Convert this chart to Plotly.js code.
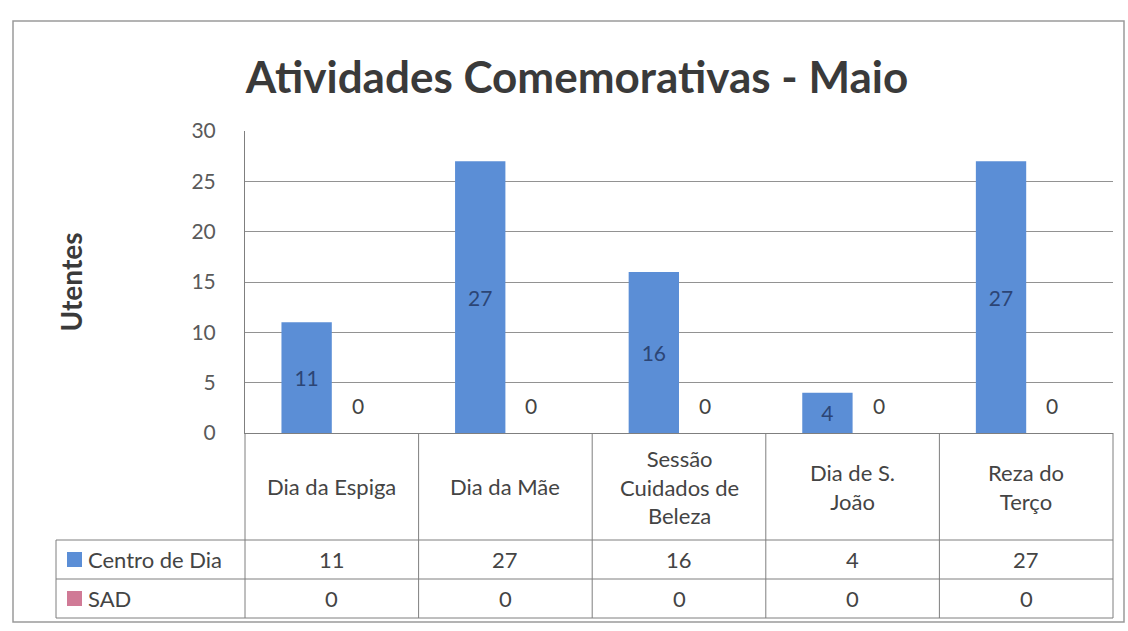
<!DOCTYPE html>
<html>
<head>
<meta charset="utf-8">
<script src="https://cdn.plot.ly/plotly-3.0.1.min.js"></script>
<style>html,body{margin:0;padding:0;background:#fff;}#chart{width:1128px;height:631px;}</style>
</head>
<body>
<div id="chart"></div>
<script>
// ---- data ----
const categories = ['Dia da Espiga', 'Dia da Mãe', 'Sessão Cuidados de Beleza', 'Dia de S. João', 'Reza do Terço'];
const categoryLabels = ['Dia da Espiga', 'Dia da Mãe', 'Sessão<br>Cuidados de<br>Beleza', 'Dia de S.<br>João', 'Reza do<br>Terço'];
const seriesNames = ['Centro de Dia', 'SAD'];
const centroDia = [11, 27, 16, 4, 27];
const sad = [0, 0, 0, 0, 0];
const yTicks = [0, 5, 10, 15, 20, 25, 30];
const chartTitle = 'Atividades Comemorativas - Maio';
const yTitle = 'Utentes';

// ---- layout geometry ----
const W = 1128, H = 631;
const M = {l: 245, r: 15, t: 131, b: 198};
const plotW = W - M.l - M.r, plotH = H - M.t - M.b;
const px2x = px => (px - M.l) / plotW;
const py2y = py => (H - M.b - py) / plotH;

const blue = '#5b8ed6', pink = '#d07a96';
const gridCol = '#929292', lineCol = '#7f7f7f', textCol = '#444444';
const FONT = 'Lato, "Open Sans", sans-serif';
const TS = 22;

const rowHeaderBottom = py2y(540), row1Bottom = py2y(579), row2Bottom = py2y(618);
const tableLeft = px2x(56);

const traces = [
  {type: 'bar', name: seriesNames[0], x: categories, y: centroDia, marker: {color: blue},
   text: centroDia.map(String), textposition: 'inside', insidetextanchor: 'middle',
   textfont: {family: FONT, size: 21, color: '#2c4575'}, hoverinfo: 'x+y+name', cliponaxis: false},
  {type: 'bar', name: seriesNames[1], x: categories, y: sad, marker: {color: pink},
   hoverinfo: 'x+y+name'}
];

const shapes = [];
const annotations = [];
const ln = (x0, y0, x1, y1) => shapes.push({type: 'line', xref: 'paper', yref: 'paper', x0, y0, x1, y1, line: {color: lineCol, width: 1}});

// outer chart border
shapes.push({type: 'rect', xref: 'paper', yref: 'paper', x0: px2x(13), x1: px2x(1124), y0: py2y(622), y1: py2y(21), line: {color: '#9a9a9a', width: 1.5}});

// table horizontal lines
[rowHeaderBottom, row1Bottom, row2Bottom].forEach(y => ln(tableLeft, y, 1, y));
// table verticals
ln(0, 0, 0, row2Bottom);
ln(1, 0, 1, row2Bottom);
ln(tableLeft, rowHeaderBottom, tableLeft, row2Bottom);
for (let i = 0; i < categories.length - 1; i++) {
  shapes.push({type: 'line', xref: 'x', yref: 'paper', x0: i + 0.5, x1: i + 0.5, y0: 0, y1: row2Bottom, line: {color: lineCol, width: 1}});
}

const cellFont = {family: FONT, size: TS, color: textCol};
const midH = (0 + rowHeaderBottom) / 2, mid1 = (rowHeaderBottom + row1Bottom) / 2, mid2 = (row1Bottom + row2Bottom) / 2;
categories.forEach((c, i) => {
  annotations.push({xref: 'x', yref: 'paper', x: c, y: midH, xanchor: 'center', yanchor: 'middle', text: categoryLabels[i], showarrow: false, font: cellFont, align: 'center'});
  annotations.push({xref: 'x', yref: 'paper', x: c, y: mid1, xanchor: 'center', yanchor: 'middle', text: String(centroDia[i]), showarrow: false, font: cellFont});
  annotations.push({xref: 'x', yref: 'paper', x: c, y: mid2, xanchor: 'center', yanchor: 'middle', text: String(sad[i]), showarrow: false, font: cellFont});
  // SAD data labels (zero-height bars)
  annotations.push({xref: 'x', yref: 'y', x: c, y: sad[i], xanchor: 'center', yanchor: 'middle', xshift: 26, yshift: 28, text: String(sad[i]), showarrow: false, font: {family: FONT, size: 21, color: textCol}});
});

// row headers with legend keys
[[seriesNames[0], blue, mid1], [seriesNames[1], pink, mid2]].forEach(([name, col, y]) => {
  const half = 7.5 / plotH;
  shapes.push({type: 'rect', xref: 'paper', yref: 'paper', x0: px2x(67), x1: px2x(82), y0: y - half, y1: y + half, fillcolor: col, line: {width: 0}});
  annotations.push({xref: 'paper', yref: 'paper', x: px2x(86), y: y, xanchor: 'left', yanchor: 'middle', text: name, showarrow: false, font: cellFont});
});

const layout = {
  width: W, height: H,
  margin: M,
  paper_bgcolor: '#fff', plot_bgcolor: '#fff',
  showlegend: false,
  barmode: 'group', bargap: 0.42, bargroupgap: 0,
  title: {text: chartTitle, font: {family: FONT, size: 44, color: '#3a3a3a', weight: 'bold'}, x: 577 / W, xanchor: 'center', y: 1 - 78 / H, yanchor: 'middle'},
  xaxis: {type: 'category', range: [-0.5, 4.5], showticklabels: false, showgrid: false, zeroline: false,
          showline: true, linecolor: lineCol, linewidth: 1, ticks: '', fixedrange: true},
  yaxis: {range: [0, 30], tickvals: yTicks, ticktext: yTicks.map(String), showgrid: true, gridcolor: gridCol, gridwidth: 1,
          zeroline: false, showline: true, linecolor: lineCol, linewidth: 1, ticks: '', ticklabelstandoff: 24,
          tickfont: {family: FONT, size: 21, color: '#5a5a5a'},
          title: {text: yTitle, font: {family: FONT, size: 28, color: '#3a3a3a', weight: 'bold'}, standoff: 100}, fixedrange: true},
  shapes, annotations
};

Plotly.newPlot('chart', traces, layout, {displayModeBar: false, staticPlot: true});
</script>
</body>
</html>
